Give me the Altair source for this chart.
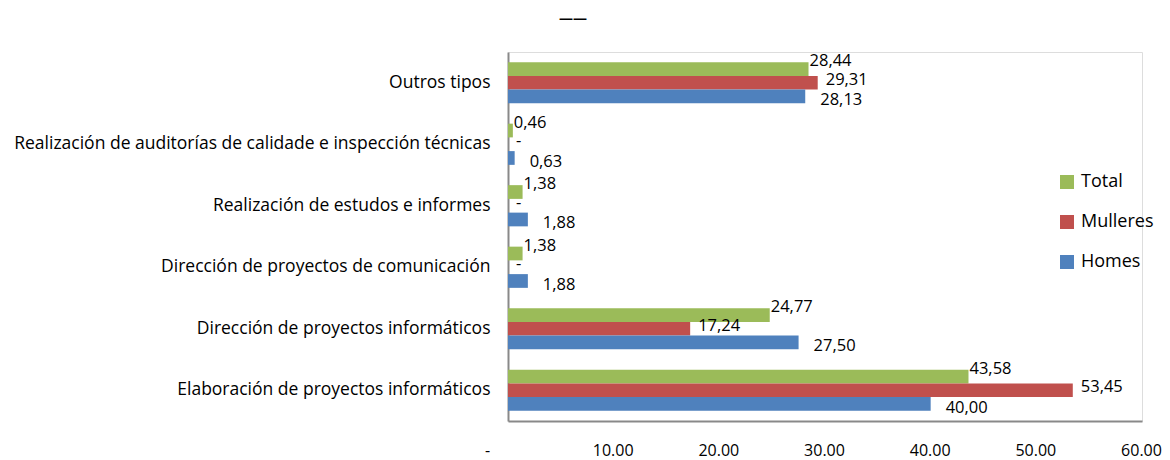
import altair as alt
import pandas as pd

categories = [
    "Outros tipos",
    "Realización de auditorías  de calidade  e inspección técnicas",
    "Realización de estudos e informes",
    "Dirección de proyectos de comunicación",
    "Dirección de proyectos informáticos",
    "Elaboración de proyectos informáticos",
]
series = ["Total", "Mulleres", "Homes"]
total = [28.44, 0.46, 1.38, 1.38, 24.77, 43.58]
mulleres = [29.31, 0.0, 0.0, 0.0, 17.24, 53.45]
homes = [28.13, 0.63, 1.88, 1.88, 27.50, 40.00]
colors = ["#9BBB59", "#C0504D", "#4F81BD"]
x_ticks = [0, 10, 20, 30, 40, 50, 60]

rows = []
for s, vals in zip(series, [total, mulleres, homes]):
    for c, v in zip(categories, vals):
        lab = "-" if v == 0 else f"{v:.2f}".replace(".", ",")
        rows.append({"cat": c, "serie": s, "valor": v, "etiqueta": lab})
df = pd.DataFrame(rows)

FONT = "Open Sans"
base = alt.Chart(df)

y_enc = alt.Y(
    "cat:N",
    sort=categories,
    title=None,
    scale=alt.Scale(paddingInner=0.33, paddingOuter=0.165),
    axis=alt.Axis(
        ticks=False,
        labelPadding=18,
        labelFontSize=17.5,
        labelLimit=700,
        labelFont=FONT,
        labelColor="#000000",
        domainColor="#898989",
        domainWidth=2,
    ),
)
x_enc = alt.X(
    "valor:Q",
    title=None,
    scale=alt.Scale(domain=[0, 60], nice=False),
    axis=alt.Axis(
        values=x_ticks,
        ticks=False,
        grid=False,
        labelPadding=21,
        labelFontSize=16,
        labelFont=FONT,
        labelColor="#000000",
        labelExpr="datum.value == 0 ? '-' : format(datum.value, '.2f')",
        labelOffset={"condition": {"test": "datum.value == 0", "value": -21}, "value": -1},
        domainColor="#898989",
        domainWidth=2,
        labelFlush=False,
    ),
)
yoff = alt.YOffset("serie:N", sort=series, scale=alt.Scale(paddingInner=0))

bars = base.mark_bar().encode(
    x=x_enc,
    y=y_enc,
    yOffset=yoff,
    color=alt.Color(
        "serie:N",
        scale=alt.Scale(domain=series, range=colors),
        legend=alt.Legend(
            title=None,
            orient="none",
            legendX=550,
            legendY=121,
            symbolType="square",
            symbolSize=196,
            symbolStrokeWidth=0,
            labelFontSize=18,
            labelFont=FONT,
            labelColor="#000000",
            rowPadding=22,
            labelOffset=5,
        ),
    ),
)

offsets = {"Total": (1, -8), "Mulleres": (8, -3), "Homes": (15, 4)}
texts = []
for s in series:
    dx, dy = offsets[s]
    texts.append(
        base.transform_filter(alt.datum.serie == s)
        .mark_text(align="left", baseline="middle", dx=dx, dy=dy, fontSize=16.5, font=FONT, color="#000000")
        .encode(x="valor:Q", y=alt.Y("cat:N", sort=categories), yOffset=yoff, text="etiqueta:N")
    )

chart = (
    alt.layer(bars, *texts)
    .properties(
        width=634,
        height=369,
        autosize=alt.AutoSizeParams(type="none"),
        padding={"left": 500, "top": 44, "right": 20, "bottom": 40},
        title=alt.TitleParams(
            text="——",
            anchor="start",
            frame="group",
            dx=51,
            offset=26,
            fontSize=14,
            fontWeight="bold",
            font=FONT,
            color="#000000",
        ),
    )
    .configure_view(stroke=None)
    .configure(background="white")
)

chart.save("out.html", embed_options={"renderer": "svg", "actions": False})
